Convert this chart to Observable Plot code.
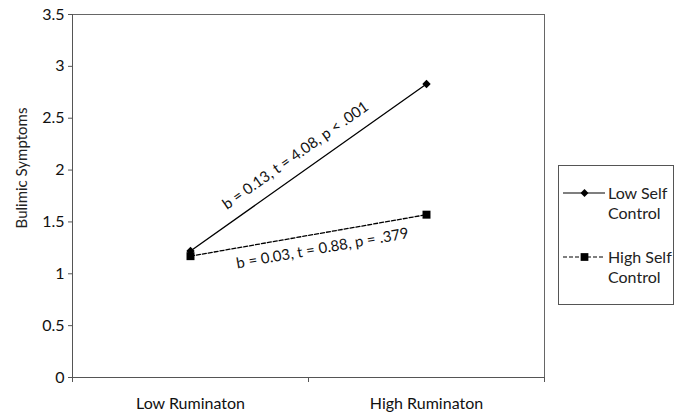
<!DOCTYPE html>
<html>
<head>
<meta charset="utf-8">
<script src="https://cdn.jsdelivr.net/npm/d3@7"></script>
<script src="https://cdn.jsdelivr.net/npm/@observablehq/plot@0.6"></script>
<style>
  html, body { margin: 0; padding: 0; background: #fff; }
  #wrap { position: relative; width: 682px; height: 412px; font-family: Lato, "Open Sans", sans-serif; }
  #legend { position: absolute; left: 558px; top: 165px; width: 116px; height: 140px; border: 1px solid #555; box-sizing: border-box; background: #fff; }
  #chart svg g[aria-label="y-axis tick label"] text,
  #chart svg g[aria-label="x-axis tick label"] text { font-size: 16px; }
  #chart svg g[aria-label="y-axis tick label"],
  #chart svg g[aria-label="x-axis tick label"] { font-size: 16px; fill: #111; }
</style>
</head>
<body>
<div id="wrap"><div id="chart"></div><div id="legend"></div></div>
<script>
const categories = ["Low Ruminaton", "High Ruminaton"];
const series = ["Low Self Control", "High Self Control"];
const lowSelfControl = [1.22, 2.83];
const highSelfControl = [1.17, 1.57];
const yTicks = [0, 0.5, 1, 1.5, 2, 2.5, 3, 3.5];
const annotations = ["b = 0.13, t = 4.08, p < .001", "b = 0.03, t = 0.88, p = .379"];
const yLabel = "Bulimic Symptoms";

const data = [];
categories.forEach((c, i) => {
  data.push({series: series[0], xi: i, cat: c, y: lowSelfControl[i]});
  data.push({series: series[1], xi: i, cat: c, y: highSelfControl[i]});
});
const low = data.filter(d => d.series === series[0]);
const high = data.filter(d => d.series === series[1]);
const ann = [
  {x: 0.5, y: d3.mean(lowSelfControl), text: annotations[0]},
  {x: 0.5, y: d3.mean(highSelfControl), text: annotations[1]}
];

const font = "Lato, 'Open Sans', sans-serif";
const chart = Plot.plot({
  width: 682,
  height: 412,
  marginLeft: 72,
  marginRight: 138,
  marginTop: 14,
  marginBottom: 35,
  style: {fontFamily: font, fontSize: "16px", color: "#222", background: "#fff"},
  x: {domain: [-0.5, 1.5], axis: null},
  y: {domain: [0, 3.5], axis: null},
  marks: [
    Plot.frame({stroke: "#666", strokeWidth: 1}),
    Plot.axisY({ticks: yTicks, tickSize: 4, tickPadding: 4, stroke: "#555", fontSize: 16, tickFormat: d => String(d), label: null}),
    Plot.ruleX([-0.5], {stroke: "#555"}),
    Plot.ruleY([0], {stroke: "#555"}),
    Plot.axisX({ticks: [-0.5, 0.5, 1.5], tickSize: 5, tickFormat: () => "", stroke: "#555", label: null}),
    Plot.axisX({ticks: [0, 1], tickSize: 0, tickPadding: 20, tickFormat: i => categories[i], fontSize: 16, label: null}),
    Plot.text([yLabel], {frameAnchor: "left", y: 2.02, dx: -50, rotate: -90, textAnchor: "middle", fontSize: 15, text: d => d, fill: "#222"}),
    Plot.line(low, {x: "xi", y: "y", stroke: "#000", strokeWidth: 1.3}),
    Plot.line(high, {x: "xi", y: "y", stroke: "#000", strokeWidth: 1.3, strokeDasharray: "4,2"}),
    Plot.dot(low, {x: "xi", y: "y", symbol: "diamond2", fill: "#000", stroke: "none", r: 3.8}),
    Plot.dot(high, {x: "xi", y: "y", symbol: "square", fill: "#000", stroke: "none", r: 4.5}),
    Plot.text([ann[0]], {x: "x", y: "y", text: "text", rotate: -35.3, dx: -13, dy: -12, fontSize: 15, fill: "#111"}),
    Plot.text([ann[1]], {x: "x", y: "y", text: "text", rotate: -10.1, dx: 14, dy: 13, fontSize: 15, fill: "#111"})
  ]
});
document.getElementById("chart").appendChild(chart);

// legend
const lg = d3.select("#legend").append("svg").attr("width", 114).attr("height", 138)
  .style("font-family", font).style("font-size", "16px");
const entries = [
  {name1: "Low Self", name2: "Control", dash: null, sym: d3.symbolDiamond2, size: 40, y: 27},
  {name1: "High Self", name2: "Control", dash: "4,2", sym: d3.symbolSquare, size: 60, y: 91}
];
entries.forEach(e => {
  lg.append("line").attr("x1", 4).attr("x2", 46).attr("y1", e.y).attr("y2", e.y)
    .attr("stroke", "#000").attr("stroke-width", 1.2).attr("stroke-dasharray", e.dash);
  lg.append("path").attr("d", d3.symbol(e.sym, e.size)()).attr("transform", `translate(25.5,${e.y})`).attr("fill", "#000");
  lg.append("text").attr("x", 49).attr("y", e.y + 5.5).attr("fill", "#222").text(e.name1);
  lg.append("text").attr("x", 49).attr("y", e.y + 25.5).attr("fill", "#222").text(e.name2);
});
</script>
</body>
</html>
